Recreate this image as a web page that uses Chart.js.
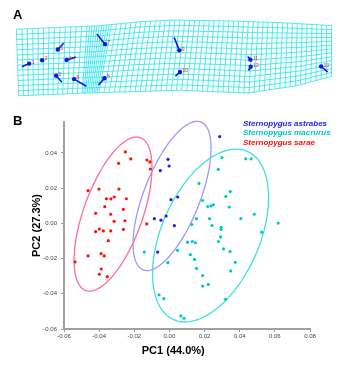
<!DOCTYPE html>
<html><head><meta charset="utf-8">
<script src="https://cdn.jsdelivr.net/npm/chart.js@4.4.0/dist/chart.umd.min.js"></script>
<style>
html,body{margin:0;padding:0;background:#fff;}
#wrap{position:relative;width:360px;height:371px;overflow:hidden;}
#cA,#cB{position:absolute;left:0;top:0;}
</style></head><body>
<div id="wrap">
<canvas id="cB" width="360" height="371"></canvas>
<canvas id="cA" width="360" height="110"></canvas>
</div>
<script>
// ---------- Panel A data (landmark configuration, deformation vectors) ----------
const landmarkLabels = ['1','2','3','4','5','6','7','8','9','10','11','12','13'];
const landmarkX = [25.7, 39, 55, 64, 53.3, 71.7, 103.3, 102.7, 179.3, 180, 252, 252.3, 324.3];
const landmarkY = [64.3, 60.7, 49, 60.3, 77.3, 81, 43.3, 80, 50, 73.3, 60, 67.7, 67.3];
const vectorEndX = [18.3, 39, 61, 73.3, 59.3, 84.3, 95, 96.7, 174, 175.3, 249.3, 250, 331];
const vectorEndY = [67.7, 60.7, 42.3, 57.3, 84.3, 88.7, 32.3, 87.3, 36, 77.7, 56.7, 71.7, 73.3];
// deformation grid outline
const gridTopX = [12.7, 50, 97, 140, 173, 233, 290, 335];
const gridTopY = [27.3, 25.5, 23.5, 19, 17.3, 18.3, 20.5, 23.3];
const gridBottomX = [15, 85, 180, 250, 300, 335];
const gridBottomY = [99, 96, 93, 96, 88, 78];
const gridSegTopStart = [12.7, 85, 110];
const gridSegTopEnd = [85, 110, 335];
const gridSegBotStart = [15, 80, 97];
const gridSegBotEnd = [80, 97, 335];
const gridSegCount = [13, 10, 45];
const gridRows = 13;

// ---------- Panel B data (PCA scores) ----------
const speciesNames = ['Sternopygus astrabes', 'Sternopygus macrurus', 'Sternopygus sarae'];
const astrabesPC1 = [-0.0008, -0.0002, -0.0052, 0.0286, 0.0009, 0.0047, -0.0086, -0.0048, -0.0019, 0.0028, -0.0067];
const astrabesPC2 = [0.0364, 0.0326, 0.0300, 0.0493, 0.0135, 0.0150, 0.0027, 0.0018, 0.0042, -0.0013, -0.0163];
const macrurusPC1 = [0.0299, 0.0434, 0.0465, 0.0278, 0.0168, 0.0346, 0.0321, 0.0189, 0.0218, 0.0237, 0.0250, 0.0340,
  0.0154, 0.0228, 0.0407, 0.0483, 0.0619, 0.0127, 0.0242, 0.0294, 0.0294, 0.0291, 0.0525, 0.0103, 0.0130, 0.0148,
  0.0279, 0.0308, 0.0345, 0.0119, 0.0143, -0.0143, -0.0009, 0.0046, 0.0154, 0.0189, 0.0189, 0.0221, 0.0375, 0.0349,
  0.0319, -0.0059, -0.0032, 0.0065, 0.0083];
const macrurusPC2 = [0.0374, 0.0367, 0.0367, 0.0307, 0.0227, 0.0181, 0.0153, 0.0130, 0.0096, 0.0099, 0.0106, 0.0093,
  0.0027, 0.0027, 0.0027, 0.0052, 0.0002, -0.0007, -0.0012, -0.0022, -0.0034, -0.0077, -0.0050, -0.0107, -0.0103, -0.0110,
  -0.0103, -0.0145, -0.0160, -0.0178, -0.0205, -0.0163, -0.0223, -0.0153, -0.0256, -0.0296, -0.0356, -0.0347, -0.0221, -0.0270,
  -0.0431, -0.0406, -0.0428, -0.0526, -0.0539];
const saraePC1 = [-0.0251, -0.0289, -0.0220, -0.0128, -0.0111, -0.0109, -0.0463, -0.0401, -0.0287, -0.0359, -0.0333,
  -0.0314, -0.0245, -0.0368, -0.0262, -0.0420, -0.0334, -0.0315, -0.0253, -0.0399, -0.0420, -0.0376, -0.0334, -0.0262,
  -0.0129, -0.0348, -0.0463, -0.0389, -0.0371, -0.0537, -0.0388, -0.0399, -0.0354];
const saraePC2 = [0.0406, 0.0341, 0.0366, 0.0360, 0.0349, 0.0309, 0.0186, 0.0195, 0.0195, 0.0140, 0.0139,
  0.0150, 0.0140, 0.0095, 0.0080, 0.0057, 0.0052, 0.0012, 0.0015, -0.0032, -0.0047, -0.0043, -0.0043, -0.0034,
  -0.0003, -0.0098, -0.0185, -0.0172, -0.0185, -0.0219, -0.0259, -0.0289, -0.0303];
// 95% ellipses: astrabes, macrurus, sarae
const ellipseCX = [0.0015, 0.0234, -0.0321];
const ellipseCY = [0.0156, -0.0069, 0.0053];
const ellipseMajor = [0.0451, 0.0522, 0.0461];
const ellipseMinor = [0.0160, 0.0279, 0.0168];
const ellipseAngleDeg = [68.6, 66.4, 70.3];
const xTicks = [-0.06, -0.04, -0.02, 0, 0.02, 0.04, 0.06, 0.08];
const yTicks = [-0.06, -0.04, -0.02, 0, 0.02, 0.04];

const pointColors = ['#1c1cf0', '#00c8c8', '#ff1010'];
const ellipseColors = ['#9a9aff', '#40e0e0', '#ff6f8f'];
const FONT = "'Liberation Sans', Arial, sans-serif";
Chart.defaults.font.family = FONT;

function interp(xs, ys, x) {
  if (x <= xs[0]) return ys[0];
  for (let i = 1; i < xs.length; i++) {
    if (x <= xs[i]) { const t = (x - xs[i-1]) / (xs[i] - xs[i-1]); return ys[i-1] + t * (ys[i] - ys[i-1]); }
  }
  return ys[ys.length - 1];
}

// ---------- Panel A chart ----------
const gridPlugin = {
  id: 'gridPlugin',
  beforeDatasetsDraw(chart) {
    const {ctx, scales: {x, y}} = chart;
    const cols = [];
    for (let s = 0; s < gridSegCount.length; s++) {
      const n = gridSegCount[s];
      for (let i = (s === 0 ? 0 : 1); i <= n; i++) {
        const t = i / n;
        cols.push([gridSegTopStart[s] + t * (gridSegTopEnd[s] - gridSegTopStart[s]),
                   gridSegBotStart[s] + t * (gridSegBotEnd[s] - gridSegBotStart[s])]);
      }
    }
    const pt = (c, v) => {
      const xt = c[0], xb = c[1];
      const yt = interp(gridTopX, gridTopY, xt), yb = interp(gridBottomX, gridBottomY, xb);
      return [x.getPixelForValue(xt + (xb - xt) * v), y.getPixelForValue(yt + (yb - yt) * v)];
    };
    ctx.save();
    ctx.strokeStyle = '#3ee6ee';
    ctx.lineWidth = 0.9;
    cols.forEach(c => {
      ctx.beginPath();
      const a = pt(c, 0), b = pt(c, 1);
      ctx.moveTo(a[0], a[1]); ctx.lineTo(b[0], b[1]); ctx.stroke();
    });
    for (let r = 0; r <= gridRows; r++) {
      const v = r / gridRows;
      ctx.beginPath();
      cols.forEach((c, i) => { const p = pt(c, v); if (i === 0) ctx.moveTo(p[0], p[1]); else ctx.lineTo(p[0], p[1]); });
      ctx.stroke();
    }
    ctx.restore();
  },
  afterDatasetsDraw(chart) {
    const {ctx, scales: {x, y}} = chart;
    ctx.save();
    ctx.fillStyle = '#ff2020';
    ctx.font = '5px ' + FONT;
    ctx.textBaseline = 'middle';
    landmarkLabels.forEach((l, i) => {
      ctx.fillText(l, x.getPixelForValue(landmarkX[i]) + 2.5, y.getPixelForValue(landmarkY[i]) - 1.2);
    });
    ctx.fillStyle = '#000';
    ctx.font = 'bold 13px ' + FONT;
    ctx.textBaseline = 'alphabetic';
    ctx.fillText('A', 13, 19);
    ctx.restore();
  }
};
const vectorData = [];
landmarkX.forEach((lx, i) => {
  vectorData.push({x: lx, y: landmarkY[i]}, {x: vectorEndX[i], y: vectorEndY[i]}, {x: lx, y: null});
});
new Chart(document.getElementById('cA'), {
  type: 'scatter',
  data: { datasets: [
    { data: landmarkX.map((v, i) => ({x: v, y: landmarkY[i]})), pointRadius: 2.2, pointBackgroundColor: '#1515e0', pointBorderWidth: 0 },
    { data: vectorData, showLine: true, borderColor: '#1515e0', borderWidth: 1.6, pointRadius: 0, spanGaps: false }
  ]},
  options: {
    responsive: false, animation: false, devicePixelRatio: 1,
    layout: { padding: 0 },
    scales: { x: { display: false, min: 0, max: 360 }, y: { display: false, min: 0, max: 110, reverse: true } },
    plugins: { legend: { display: false }, tooltip: { enabled: false } }
  },
  plugins: [gridPlugin]
});

// ---------- Panel B chart ----------
const ellipsePlugin = {
  id: 'ellipsePlugin',
  beforeDatasetsDraw(chart) {
    const {ctx, scales: {x, y}} = chart;
    ctx.save();
    ctx.lineWidth = 1.3;
    for (let k = 0; k < ellipseCX.length; k++) {
      const th = ellipseAngleDeg[k] * Math.PI / 180;
      ctx.strokeStyle = ellipseColors[k];
      ctx.beginPath();
      for (let i = 0; i <= 120; i++) {
        const t = i / 120 * 2 * Math.PI;
        const ex = ellipseMajor[k] * Math.cos(t), ey = ellipseMinor[k] * Math.sin(t);
        const vx = ellipseCX[k] + ex * Math.cos(th) - ey * Math.sin(th);
        const vy = ellipseCY[k] + ex * Math.sin(th) + ey * Math.cos(th);
        const px = x.getPixelForValue(vx), py = y.getPixelForValue(vy);
        if (i === 0) ctx.moveTo(px, py); else ctx.lineTo(px, py);
      }
      ctx.closePath();
      ctx.stroke();
    }
    ctx.restore();
  },
  afterDraw(chart) {
    const {ctx} = chart;
    ctx.save();
    ctx.font = 'italic bold 8px ' + FONT;
    ctx.textBaseline = 'middle';
    const ys = [123.5, 133.1, 142.7];
    speciesNames.forEach((n, i) => { ctx.fillStyle = pointColors[i]; ctx.fillText(n, 243, ys[i]); });
    ctx.fillStyle = '#000';
    ctx.font = 'bold 13px ' + FONT;
    ctx.textBaseline = 'alphabetic';
    ctx.fillText('B', 13, 125);
    ctx.restore();
  }
};
const mk = (xs, ys) => xs.map((v, i) => ({x: v, y: ys[i]}));
new Chart(document.getElementById('cB'), {
  type: 'scatter',
  data: { datasets: [
    { label: speciesNames[0], data: mk(astrabesPC1, astrabesPC2), pointBackgroundColor: pointColors[0] },
    { label: speciesNames[1], data: mk(macrurusPC1, macrurusPC2), pointBackgroundColor: pointColors[1] },
    { label: speciesNames[2], data: mk(saraePC1, saraePC2), pointBackgroundColor: pointColors[2] }
  ].map(d => Object.assign(d, { pointRadius: 1.6, pointBorderWidth: 0 })) },
  options: {
    responsive: false, animation: false, devicePixelRatio: 1,
    layout: { padding: { top: 122, right: 50, left: 0, bottom: 0 } },
    scales: {
      x: {
        type: 'linear', min: -0.06, max: 0.08,
        afterBuildTicks: s => { s.ticks = xTicks.map(v => ({value: v})); },
        afterFit: s => { s.height = 42; },
        ticks: { font: { size: 6 }, color: '#444', padding: 1, maxRotation: 0, callback: v => v.toFixed(2) },
        grid: { drawOnChartArea: false, tickLength: 3, color: '#999' },
        border: { color: '#a0a0a0', width: 2 },
        title: { display: true, text: 'PC1 (44.0%)\u00a0\u00a0\u00a0\u00a0\u00a0\u00a0\u00a0\u00a0\u00a0', color: '#000', font: { size: 11, weight: 'bold' }, padding: { top: 0, bottom: 13.4 } }
      },
      y: {
        type: 'linear', min: -0.06, max: 0.0576,
        afterBuildTicks: s => { s.ticks = yTicks.map(v => ({value: v})); },
        afterFit: s => { s.width = 64; },
        ticks: { font: { size: 6 }, color: '#444', padding: 4, callback: v => v.toFixed(2) },
        grid: { drawOnChartArea: false, tickLength: 3, color: '#999' },
        border: { color: '#a0a0a0', width: 2 },
        title: { display: true, text: 'PC2 (27.3%)', color: '#000', font: { size: 11, weight: 'bold' }, padding: { top: 30.4, bottom: 0 } }
      }
    },
    plugins: { legend: { display: false }, tooltip: { enabled: false } }
  },
  plugins: [ellipsePlugin]
});
</script>
</body></html>
